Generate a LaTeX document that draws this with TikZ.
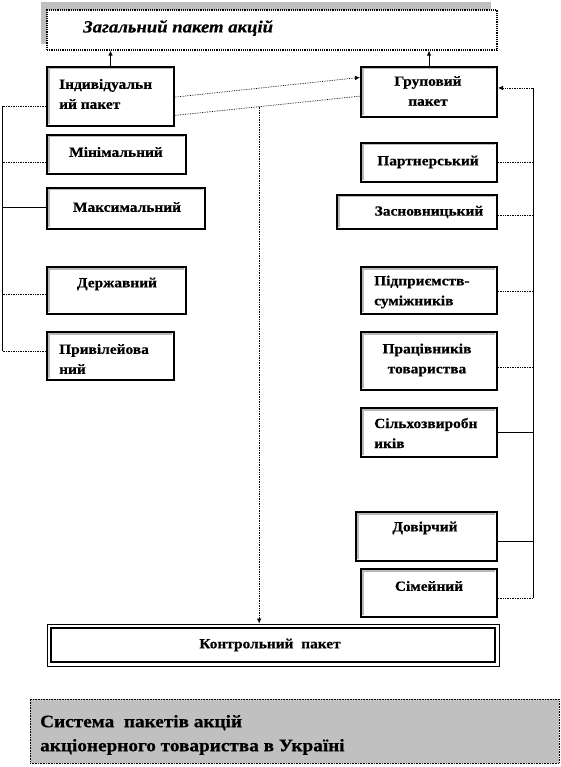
\documentclass[tikz,border=0pt]{standalone}
\usepackage{fontspec}
\setmainfont{Liberation Serif}[BoldFeatures={FakeStretch=1.1,FakeBold=0.6},BoldItalicFeatures={FakeStretch=1.1,FakeBold=0.6}]
\usetikzlibrary{arrows.meta,fit,calc}
\definecolor{boxgray}{HTML}{C0C0C0}
\begin{document}
\begin{tikzpicture}[x=1pt,y=-1pt,
  box/.style={draw=black, line width=2pt, inner sep=0pt,
    path picture={\draw[gray!55,line width=1.2pt]
      ([shift={(1.9pt,1.9pt)}]path picture bounding box.south west) |-
      ([shift={(-1.9pt,-1.9pt)}]path picture bounding box.north east);}},
  lbl/.style={font=\fontsize{14}{20}\selectfont\bfseries, inner sep=0pt},
  dots/.style={densely dotted, line width=0.7pt},
  solid line/.style={line width=0.8pt},
  arr/.style={-{Latex[length=5pt,width=4.5pt]}},
]
\useasboundingbox (0,0) rectangle (561,767);

% top box
\fill[gray!50] (41,2) rectangle (491,44);
\node[draw=black, fill=white, densely dotted, line width=1.2pt, inner sep=0pt,
      fit={(47,10) (497,50)}] (top) {};
\node[lbl, anchor=west, font=\fontsize{17}{20}\selectfont\bfseries\itshape] (toptxt) at (83,28) {Загальний пакет акцій};

% left boxes
\node[box, fit={(47,67) (174,126)}] (ind) {};
\node[lbl, anchor=west, align=left] (indtxt) at (59,94) {Індивідуальн\\ий пакет};
\node[box, fit={(47,135) (186,174)}] (min) {};
\node[lbl] (mintxt) at (116,152) {Мінімальний};
\node[box, fit={(47,188) (205,229)}] (max) {};
\node[lbl] (maxtxt) at (127,207) {Максимальний};
\node[box, fit={(47,267) (186,314)}] (der) {};
\node[lbl] (dertxt) at (117,284) {Державний};
\node[box, fit={(47,332) (174,380)}] (pryv) {};
\node[lbl, anchor=west, align=left] (pryvtxt) at (59,359) {Привілейова\\ний};

% right boxes
\node[box, fit={(361,67) (497,117)}] (grup) {};
\node[lbl, align=center] (gruptxt) at (428,91) {Груповий\\пакет};
\node[box, fit={(361,143) (497,182)}] (part) {};
\node[lbl] (parttxt) at (428,162) {Партнерський};
\node[box, fit={(337,195) (497,229)}] (zasn) {};
\node[lbl] (zasntxt) at (429,212) {Засновницький};
\node[box, fit={(361,267) (497,314)}] (pidp) {};
\node[lbl, anchor=west, align=left] (pidptxt) at (374,292) {Підприємств-\\суміжників};
\node[box, fit={(361,332) (497,390)}] (prac) {};
\node[lbl, align=center] (practxt) at (427,360) {Працівників\\товариства};
\node[box, fit={(361,408) (497,457)}] (silh) {};
\node[lbl, anchor=west, align=left] (silhtxt) at (374,433) {Сільхозвиробн\\иків};
\node[box, fit={(356,512) (497,561)}] (dov) {};
\node[lbl] (dovtxt) at (425,528) {Довірчий};
\node[box, fit={(361,569) (497,617)}] (sim) {};
\node[lbl] (simtxt) at (429,586) {Сімейний};

% control box
\node[draw=black, line width=0.8pt, inner sep=0pt, fit={(47,624) (499,666)},
  path picture={\draw[black,line width=2.6pt]
    ([shift={(4pt,4pt)}]path picture bounding box.south west) rectangle
    ([shift={(-4pt,-4pt)}]path picture bounding box.north east);}] (ctrl) {};
\node[lbl] (ctrltxt) at (270,645) {Контрольний\ \ пакет};

% bottom title box
\node[draw=black, densely dotted, line width=0.6pt, fill=boxgray, inner sep=0pt,
      fit={(30,699) (559,763)}] (title) {};
\node[lbl, anchor=west, align=left, font=\fontsize{17.5}{24}\selectfont\bfseries] (titletxt) at (40,735)
  {Система\ \ пакетів акцій\\акціонерного товариства в Україні};

% arrows to top box
\draw[solid line, arr] (ind.north) -- (ind.north |- top.south);
\draw[solid line, arr] (grup.north) -- (grup.north |- top.south);

% links between individual and group
\draw[dots, arr] ($(ind.north east)!0.51!(ind.south east)$) -- ($(grup.north west)!0.22!(grup.south west)$);
\coordinate (p1) at ($(ind.north east)!0.81!(ind.south east)$);
\coordinate (p2) at ($(grup.north west)!0.58!(grup.south west)$);
\draw[dots] (p1) -- (p2);
\coordinate (br) at ($(p1)!0.455!(p2)$);
\draw[dots, arr] (br) -- (br |- ctrl.north);

% left rail
\coordinate (L0) at (2.5,106);
\coordinate (L1) at (2.5,162);
\coordinate (L2) at (2.5,207);
\coordinate (L3) at (2.5,294);
\coordinate (L4) at (2.5,351);
\draw[solid line] (L0) -- (L4);
\draw[dots] (L0) -- (L0 -| ind.west);
\draw[dots] (L1) -- (L1 -| min.west);
\draw[solid line] (L2) -- (L2 -| max.west);
\draw[dots] (L3) -- (L3 -| der.west);
\draw[dots] (L4) -- (L4 -| pryv.west);

% right rail
\coordinate (R0) at (533,88);
\coordinate (R1) at (533,162);
\coordinate (R2) at (533,215);
\coordinate (R3) at (533,291);
\coordinate (R4) at (533,367);
\coordinate (R5) at (533,432);
\coordinate (R6) at (533,541);
\coordinate (R7) at (533,598);
\draw[solid line] (R0) -- (R7);
\draw[dots, arr] (R0) -- (R0 -| grup.east);
\draw[dots] (R1 -| part.east) -- (R1);
\draw[dots] (R2 -| zasn.east) -- (R2);
\draw[dots] (R3 -| pidp.east) -- (R3);
\draw[dots] (R4 -| prac.east) -- (R4);
\draw[solid line] (R5 -| silh.east) -- (R5);
\draw[solid line] (R6 -| dov.east) -- (R6);
\draw[dots] (R7 -| sim.east) -- (R7);
\end{tikzpicture}
\end{document}
